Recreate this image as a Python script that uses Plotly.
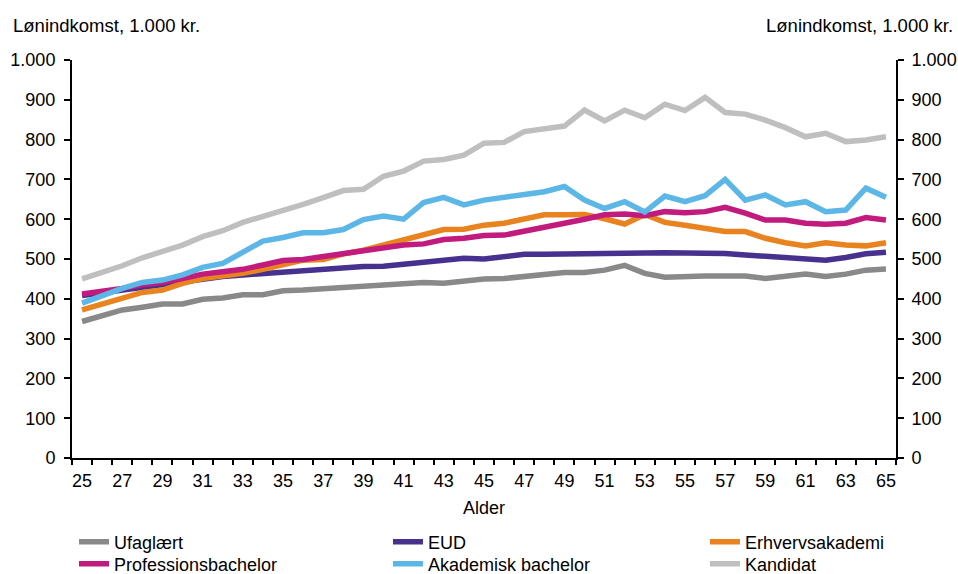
import plotly.graph_objects as go

ages = list(range(25, 66))

ufaglaert = [343, 359, 372, 379, 387, 387, 399, 402, 410, 410, 420, 422, 425, 429, 432,
             435, 437, 441, 439, 446, 450, 451, 456, 464, 466, 466, 472, 484, 464, 454,
             457, 457, 457, 457, 451, 456, 462, 456, 462, 472, 475]
eud = [408, 415, 422, 430, 437, 443, 451, 456, 460, 464, 468, 471, 475, 478, 481,
       482, 487, 492, 499, 502, 500, 506, 512, 512, 512, 513, 513, 513, 515, 516,
       516, 517, 514, 510, 506, 503, 500, 497, 504, 513, 517]
erhverv = [372, 387, 404, 416, 422, 439, 451, 457, 464, 474, 485, 497, 499, 513, 522,
           535, 548, 560, 574, 575, 585, 590, 600, 611, 611, 612, 601, 588, 612, 592,
           585, 577, 569, 569, 552, 541, 533, 541, 535, 533, 541]
profbach = [412, 418, 426, 435, 441, 451, 462, 468, 474, 485, 496, 499, 506, 514, 519,
            527, 535, 538, 549, 552, 559, 560, 571, 581, 590, 600, 611, 613, 609, 619,
            616, 619, 630, 615, 598, 598, 590, 587, 590, 604, 598]
akabach = [389, 408, 426, 441, 447, 460, 479, 489, 517, 545, 554, 566, 566, 574, 599,
           608, 600, 642, 655, 636, 648, 654, 661, 669, 682, 648, 627, 644, 618, 658,
           644, 659, 700, 648, 661, 636, 644, 619, 623, 678, 655]
kandidat = [450, 466, 483, 503, 520, 535, 556, 571, 592, 606, 620, 637, 654, 672, 675,
            708, 721, 746, 750, 761, 791, 793, 820, 827, 834, 874, 847, 874, 855, 889,
            873, 906, 868, 864, 849, 830, 807, 816, 795, 799, 807]

series_names = ["Ufaglært", "EUD", "Erhvervsakademi",
                "Professionsbachelor", "Akademisk bachelor", "Kandidat"]
series_values = [ufaglaert, eud, erhverv, profbach, akabach, kandidat]
series_colors = ["#898989", "#46318E", "#E8831F", "#C21B7E", "#5CB7E6", "#BFBFBF"]

x_labels = [str(a) for a in range(25, 66, 2)]
y_ticks = list(range(0, 1001, 100))

FONT = "Liberation Sans, Arial, sans-serif"
FS = 18
W, H = 958, 574

# legend placement (container fractions): 3 columns x 2 rows
leg_x = [74 / W, 388 / W, 705 / W]
leg_y = [1 - 542 / H, 1 - 564 / H]

fig = go.Figure()
legend_layout = {}
for i, (name, vals, col) in enumerate(zip(series_names, series_values, series_colors)):
    lid = "legend" if i == 0 else f"legend{i + 1}"
    fig.add_trace(go.Scatter(x=ages, y=vals, name=name, mode="lines",
                             line=dict(color=col, width=5.5), hoverinfo="skip",
                             legend=lid))
    legend_layout[lid] = dict(
        xref="container", yref="container",
        x=leg_x[i % 3], y=leg_y[i // 3], xanchor="left", yanchor="middle",
        bgcolor="rgba(0,0,0,0)", font=dict(family=FONT, size=FS, color="black"),
    )

fig.add_trace(go.Scatter(x=[ages[0]], y=[0], yaxis="y2", showlegend=False,
                         mode="markers", marker=dict(opacity=0), hoverinfo="skip"))
fig.add_trace(go.Scatter(x=[ages[0]], y=[0], xaxis="x2", showlegend=False,
                         mode="markers", marker=dict(opacity=0), hoverinfo="skip"))

half_ticks = [a - 0.5 for a in ages] + [ages[-1] + 0.5]

fig.update_layout(
    width=W, height=H,
    margin=dict(l=72, r=62, t=60, b=116, autoexpand=False),
    paper_bgcolor="white", plot_bgcolor="white",
    separators=",.",
    font=dict(family=FONT, size=FS, color="black"),
    showlegend=True,
    xaxis=dict(range=[24.5, 65.5], tickmode="array",
               tickvals=list(range(25, 66, 2)), ticktext=x_labels,
               ticks="", ticklabelstandoff=5, showgrid=False, zeroline=False,
               showline=True, linecolor="black", linewidth=2,
               tickfont=dict(family=FONT, size=FS),
               title=dict(text="Alder", font=dict(family=FONT, size=FS), standoff=12)),
    xaxis2=dict(range=[24.5, 65.5], overlaying="x", matches="x", side="bottom",
                tickmode="array", tickvals=half_ticks, ticks="outside",
                ticklen=6, tickwidth=1.5, tickcolor="black",
                showticklabels=False, showgrid=False, zeroline=False, showline=False),
    yaxis=dict(range=[0, 1000], tickmode="array", tickvals=y_ticks,
               tickformat=",d", ticks="outside", ticklen=6, tickwidth=1.5,
               tickcolor="black", ticklabelstandoff=5, showgrid=False, zeroline=False,
               showline=True, linecolor="black", linewidth=2,
               tickfont=dict(family=FONT, size=FS)),
    yaxis2=dict(range=[0, 1000], overlaying="y", side="right", matches="y",
                tickmode="array", tickvals=y_ticks,
                tickformat=",d", ticks="outside", ticklen=6, tickwidth=1.5,
                tickcolor="black", ticklabelstandoff=4, showgrid=False, zeroline=False,
                showline=True, linecolor="black", linewidth=2,
                tickfont=dict(family=FONT, size=FS)),
    annotations=[
        dict(text="Lønindkomst, 1.000 kr.", xref="paper", yref="paper",
             x=(11 - 72) / 824, y=(458 - 25) / 398, xanchor="left", yanchor="middle",
             showarrow=False, font=dict(family=FONT, size=18.5)),
        dict(text="Lønindkomst, 1.000 kr.", xref="paper", yref="paper",
             x=(955 - 72) / 824, y=(458 - 25) / 398, xanchor="right", yanchor="middle",
             showarrow=False, font=dict(family=FONT, size=18.5)),
    ],
    **legend_layout,
)

fig.write_html("out.html",
               config={"displayModeBar": False},
               post_script="document.body.style.margin='0';document.body.style.padding='0';")
